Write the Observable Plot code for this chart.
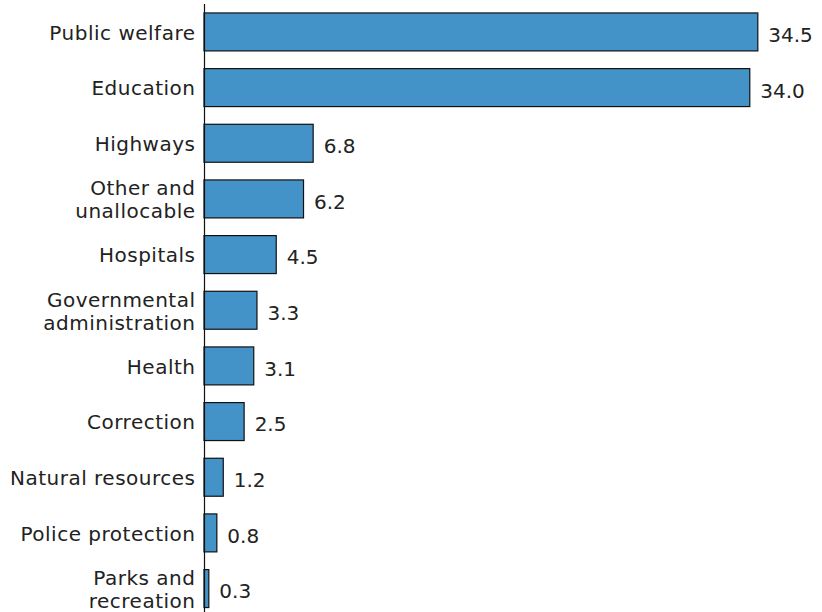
<!DOCTYPE html>
<html>
<head>
<meta charset="utf-8">
<script src="https://cdn.jsdelivr.net/npm/d3@7"></script>
<script src="https://cdn.jsdelivr.net/npm/@observablehq/plot@0.6"></script>
<style>
  html, body { margin: 0; padding: 0; background: #fff; }
  #chart svg { display: block; }
  .cat text { letter-spacing: 0.5px; }
</style>
</head>
<body>
<div id="chart"></div>
<script>
const categories = [
  "Public welfare",
  "Education",
  "Highways",
  "Other and\nunallocable",
  "Hospitals",
  "Governmental\nadministration",
  "Health",
  "Correction",
  "Natural resources",
  "Police protection",
  "Parks and\nrecreation"
];
const values = [34.5, 34.0, 6.8, 6.2, 4.5, 3.3, 3.1, 2.5, 1.2, 0.8, 0.3];

const data = categories.map((c, i) => ({category: c, value: values[i]}));

const chart = Plot.plot({
  width: 822,
  height: 612,
  marginLeft: 204,
  marginRight: 8,
  marginTop: 8.5,
  marginBottom: 0,
  style: {fontFamily: "'DejaVu Sans', sans-serif", fontSize: "20px", color: "#222"},
  x: {domain: [0, 38], axis: null},
  y: {domain: categories, axis: null, paddingInner: 0.318, paddingOuter: 0.08, round: false},
  marks: [
    Plot.barX(data, {y: "category", x: "value", fill: "#4393c9", stroke: "#111", strokeWidth: 1.2}),
    Plot.text(data, {y: "category", x: "value", text: d => d.value.toFixed(1), textAnchor: "start", dx: 10, dy: 3, fill: "#222", fontSize: 20}),
    Plot.text(data, {y: "category", frameAnchor: "left", text: "category", textAnchor: "end", dx: -9, fill: "#222", fontSize: 20, lineHeight: 1.15, className: "cat"}),
    Plot.ruleX([0], {stroke: "#111", strokeWidth: 1.2, insetTop: -4.5})
  ]
});
document.getElementById("chart").appendChild(chart);
</script>
</body>
</html>
